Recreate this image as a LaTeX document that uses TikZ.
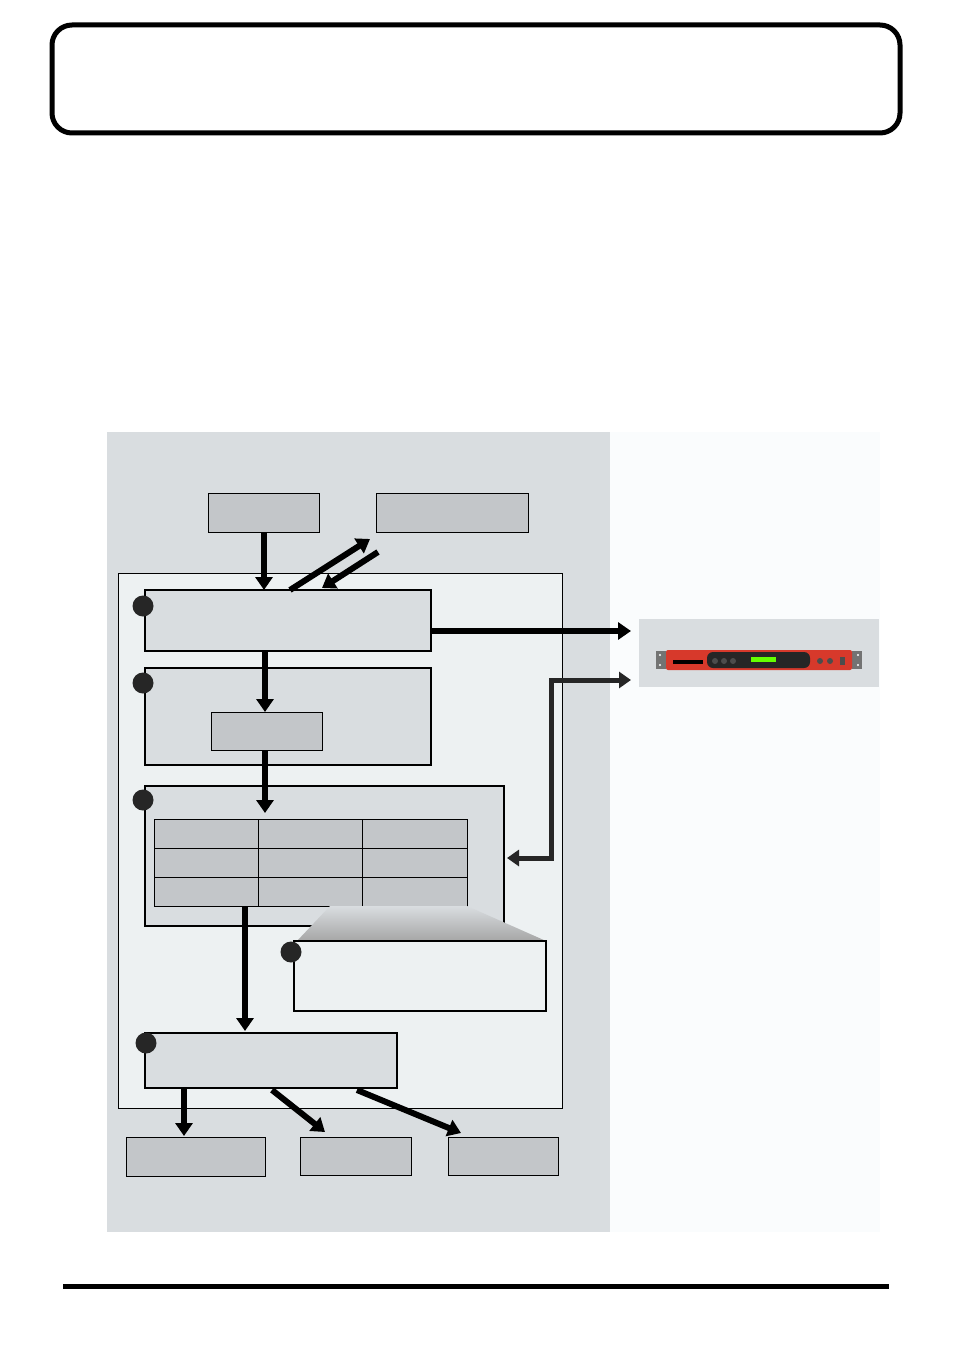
\documentclass[tikz,border=0pt]{standalone}
\usetikzlibrary{arrows.meta}
\definecolor{bgg}{HTML}{D9DDE0}
\definecolor{inn}{HTML}{EDF1F2}
\definecolor{dk}{HTML}{C3C6C9}
\definecolor{wh}{HTML}{FAFCFD}
\definecolor{rd}{HTML}{D7392B}
\begin{document}
\begin{tikzpicture}[x=1pt,y=-1pt,
 box/.style={draw=black,line width=1.3pt,fill=bgg},
 dbox/.style={draw=black,line width=1pt,fill=dk},
 arr/.style={line width=6pt,-{Triangle[length=13pt,width=17pt]}},
 dot/.style={circle,fill=black!85,inner sep=0pt,minimum size=21pt}]
\useasboundingbox (0,0) rectangle (954,1351);
\fill[white] (0,0) rectangle (954,1351);
\draw[line width=5pt,rounded corners=20pt] (52,25) rectangle (900,133);
\draw[line width=5pt] (63,1286) -- (889,1286);
\fill[bgg] (107,432) rectangle (610,1232);
\fill[wh] (610,432) rectangle (880,1232);
\draw[fill=inn,line width=0.8pt] (118,573) rectangle (562,1108);
\draw[dbox] (208,493) rectangle (319,532);
\draw[dbox] (376,493) rectangle (528,532);
\draw[box] (145,590) rectangle (431,651);
\draw[box] (145,668) rectangle (431,765);
\draw[dbox] (211,712) rectangle (322,750);
\draw[box] (145,786) rectangle (504,926);
\foreach \y in {819,848,877}{\foreach \x/\w in {154/258,258/362,362/467}{\draw[dbox] (\x,\y) rectangle (\w,\y+29);}}
\shade[top color=bgg,bottom color=black!35] (330,906) -- (467,906) -- (546,941) -- (297,941) -- cycle;
\draw[box,fill=inn] (294,941) rectangle (546,1011);
\draw[box] (145,1033) rectangle (397,1088);
\draw[dbox] (126,1137) rectangle (265,1176);
\draw[dbox] (300,1137) rectangle (411,1175);
\draw[dbox] (448,1137) rectangle (558,1175);
\foreach \n/\p in {c1/{(143,606)},c2/{(143,683)},c3/{(143,800)},c4/{(291,952)},c5/{(146,1043)}}{\node[dot] (\n) at \p {};}
\draw[arr] (264,532) -- (264,590);
\draw[arr] (290,590) -- (370,539);
\draw[arr] (378,552) -- (322,588);
\draw[arr] (265,651) -- (265,712);
\draw[arr] (265,750) -- (265,813);
\draw[arr] (431,631) -- (631,631);
\draw[line width=5pt,{Triangle[length=12pt,width=16pt]}-{Triangle[length=12pt,width=16pt]},black!85] (507,858) -- (551,858) -- (551,680) -- (631,680);
\draw[arr] (245,906) -- (245,1031);
\draw[arr] (184,1088) -- (184,1136);
\draw[arr] (272,1090) -- (325,1132);
\draw[arr] (357,1090) -- (461,1133);
\fill[bgg] (639,619) rectangle (879,687);
\fill[black!55] (656,651) rectangle (666,669);
\fill[black!55] (852,651) rectangle (862,669);
\fill[white] (660,655) circle (1.2pt) (660,665) circle (1.2pt) (858,655) circle (1.2pt) (858,665) circle (1.2pt);
\fill[rd,rounded corners=2pt] (666,650) rectangle (852,670);
\fill[black] (673,660) rectangle (703,664);
\fill[black!85,rounded corners=6pt] (707,652) rectangle (810,668);
\fill[green!60!yellow] (751,657) rectangle (776,662);
\foreach \x in {715,724,733,820,830}{\fill[black!70] (\x,661) circle (3pt);}
\fill[black!70] (840,657) rectangle (845,665);
\end{tikzpicture}
\end{document}
